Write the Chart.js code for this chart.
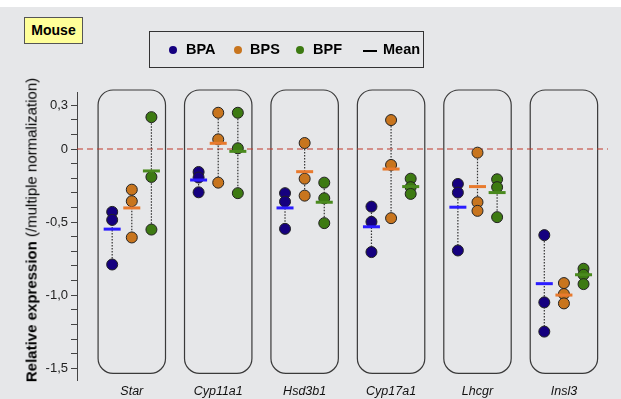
<!DOCTYPE html>
<html lang="en">
<head>
    <meta charset="UTF-8">
    <title>Mouse - Relative expression</title>
    <script src="https://cdn.jsdelivr.net/npm/chart.js@4.4.1/dist/chart.umd.min.js"></script>
    <style>
        body {
            margin: 0;
            width: 621px;
            height: 399px;
            background: #fff;
            font-family: 'Liberation Sans', Arial, sans-serif;
            overflow: hidden;
        }
        .panel {
            position: absolute;
            left: 0;
            top: 7px;
            width: 621px;
            height: 392px;
            background: #e6e7e9;
        }
        canvas {
            position: absolute;
            left: 0;
            top: 0;
        }
        .species {
            position: absolute;
            left: 24px;
            top: 17px;
            width: 57px;
            height: 25px;
            background: #ffff99;
            border: 1px solid #555;
            font-weight: bold;
            font-size: 14px;
            line-height: 25px;
            text-align: center;
            color: #000;
        }
        .legend {
            position: absolute;
            left: 149px;
            top: 31px;
            width: 273px;
            height: 35px;
            border: 1px solid #333;
        }
        .legend span {
            position: absolute;
            top: 9px;
            font-weight: bold;
            font-size: 14.5px;
            color: #000;
        }
        .legend i {
            position: absolute;
            top: 14px;
            width: 8px;
            height: 8px;
            border-radius: 50%;
        }
        .legend b {
            position: absolute;
            top: 18px;
            width: 14px;
            height: 2px;
            background: #000;
        }
        .ytitle {
            position: absolute;
            left: 31px;
            top: 230px;
            transform: translate(-50%, -50%) rotate(-90deg);
            white-space: nowrap;
            font-size: 15px;
            color: #000;
        }
    </style>
</head>
<body>
    <div class="panel"></div>
    <canvas id="chart" width="621" height="399"></canvas>
    <div class="species">Mouse</div>
    <div class="legend">
        <i style="left:19px;background:#15007f"></i><span style="left:36px">BPA</span>
        <i style="left:84px;background:#c8751e"></i><span style="left:100px">BPS</span>
        <i style="left:146px;background:#3d7a12"></i><span style="left:163px">BPF</span>
        <b style="left:213px"></b><span style="left:233px">Mean</span>
    </div>
    <div class="ytitle"><b>Relative expression</b> (/multiple normalization)</div>

    <script>
        const genes = ['Star', 'Cyp11a1', 'Hsd3b1', 'Cyp17a1', 'Lhcgr', 'Insl3'];

        // individual values per gene
        const bpaValues = [
            [-0.43, -0.485, -0.79],
            [-0.157, -0.195, -0.296],
            [-0.302, -0.36, -0.546],
            [-0.394, -0.498, -0.705],
            [-0.239, -0.298, -0.694],
            [-0.589, -1.049, -1.249]
        ];
        const bpsValues = [
            [-0.278, -0.357, -0.605],
            [0.248, 0.066, -0.23],
            [0.041, -0.203, -0.319],
            [0.198, -0.109, -0.473],
            [-0.025, -0.364, -0.423],
            [-0.917, -0.992, -1.056]
        ];
        const bpfValues = [
            [0.218, -0.191, -0.551],
            [0.248, 0.005, -0.302],
            [-0.23, -0.337, -0.507],
            [-0.203, -0.261, -0.307],
            [-0.207, -0.261, -0.466],
            [-0.819, -0.86, -0.924]
        ];

        const bpaMeans = [-0.548, -0.212, -0.403, -0.532, -0.398, -0.921];
        const bpsMeans = [-0.403, 0.039, -0.155, -0.137, -0.257, -0.999];
        const bpfMeans = [-0.15, -0.016, -0.364, -0.257, -0.298, -0.86];

        const yTicks = [0.3, 0.2, 0.1, 0, -0.1, -0.2, -0.3, -0.4, -0.5, -0.6, -0.7, -0.8, -0.9,
                        -1.0, -1.1, -1.2, -1.3, -1.4, -1.5];
        const yLabels = { '0.3': '0,3', '0': '0', '-0.5': '-0,5', '-1': '-1,0', '-1.5': '-1,5' };

        const series = [
            { name: 'BPA', values: bpaValues, means: bpaMeans, offset: -0.227, fill: '#15007f', mean: '#2a1cff' },
            { name: 'BPS', values: bpsValues, means: bpsMeans, offset: 0, fill: '#c8751e', mean: '#e87a2e' },
            { name: 'BPF', values: bpfValues, means: bpfMeans, offset: 0.227, fill: '#3d7a12', mean: '#4a8a1e' }
        ];

        const datasets = [];
        series.forEach(s => {
            datasets.push({
                label: s.name + ' mean',
                type: 'scatter',
                data: s.means.map((m, i) => ({ x: i + s.offset, y: m })),
                pointStyle: 'line',
                pointRadius: 8.5,
                borderColor: s.mean,
                backgroundColor: s.mean,
                pointBorderWidth: 3,
                order: 0
            });
            datasets.push({
                label: s.name,
                type: 'scatter',
                data: s.values.flatMap((vals, i) => vals.map(v => ({ x: i + s.offset, y: v }))),
                pointRadius: 5.5,
                backgroundColor: s.fill,
                borderColor: '#222',
                pointBorderWidth: 1,
                order: 1
            });
            s.values.forEach((vals, i) => {
                datasets.push({
                    label: s.name + ' range',
                    type: 'line',
                    data: [{ x: i + s.offset, y: Math.max(...vals) }, { x: i + s.offset, y: Math.min(...vals) }],
                    borderColor: '#333',
                    borderWidth: 1.2,
                    borderDash: [1.5, 1.5],
                    pointRadius: 0,
                    order: 2
                });
            });
        });

        // rounded boxes behind each gene and red dashed zero line
        const backdrop = {
            id: 'backdrop',
            beforeDatasetsDraw(chart) {
                const ctx = chart.ctx;
                const x = chart.scales.x, y = chart.scales.y;
                const area = chart.chartArea;
                ctx.save();
                ctx.strokeStyle = '#3a3a3a';
                ctx.lineWidth = 1.2;
                genes.forEach((g, i) => {
                    const left = x.getPixelForValue(i - 0.39);
                    const right = x.getPixelForValue(i + 0.39);
                    const top = area.top - 2;
                    const bottom = y.getPixelForValue(-1.535);
                    ctx.beginPath();
                    ctx.roundRect(left, top, right - left, bottom - top, 15);
                    ctx.stroke();
                });
                const y0 = y.getPixelForValue(0);
                ctx.strokeStyle = '#c0392b';
                ctx.lineWidth = 1.2;
                ctx.setLineDash([6, 4]);
                ctx.beginPath();
                ctx.moveTo(area.left, y0);
                ctx.lineTo(area.right, y0);
                ctx.stroke();
                ctx.restore();
            }
        };

        new Chart(document.getElementById('chart'), {
            type: 'scatter',
            data: { datasets: datasets },
            options: {
                responsive: false,
                animation: false,
                devicePixelRatio: 1,
                layout: { padding: { top: 92, right: 13, left: 0, bottom: 0 } },
                plugins: { legend: { display: false }, tooltip: { enabled: false } },
                scales: {
                    x: {
                        type: 'linear',
                        min: -0.634,
                        max: 5.51,
                        afterBuildTicks: scale => { scale.ticks = genes.map((g, i) => ({ value: i })); },
                        afterFit: scale => { scale.height = 19; },
                        ticks: {
                            callback: (v) => genes[v],
                            font: { family: 'Liberation Sans', size: 12.5, style: 'italic' },
                            color: '#111',
                            padding: 4,
                            maxRotation: 0,
                            autoSkip: false
                        },
                        grid: { display: false, drawTicks: false },
                        border: { display: false }
                    },
                    y: {
                        min: -1.58,
                        max: 0.39,
                        afterBuildTicks: scale => { scale.ticks = yTicks.map(v => ({ value: v })); },
                        afterFit: scale => { scale.width = 77; },
                        ticks: {
                            callback: (v) => yLabels[String(Math.round(v * 10) / 10)] || '',
                            font: { family: 'Liberation Sans', size: 13 },
                            color: '#222',
                            padding: 3,
                            autoSkip: false
                        },
                        grid: { drawOnChartArea: false, tickLength: 6, color: '#444' },
                        border: { display: true, color: '#444', width: 1 }
                    }
                }
            },
            plugins: [backdrop]
        });
    </script>
</body>
</html>
